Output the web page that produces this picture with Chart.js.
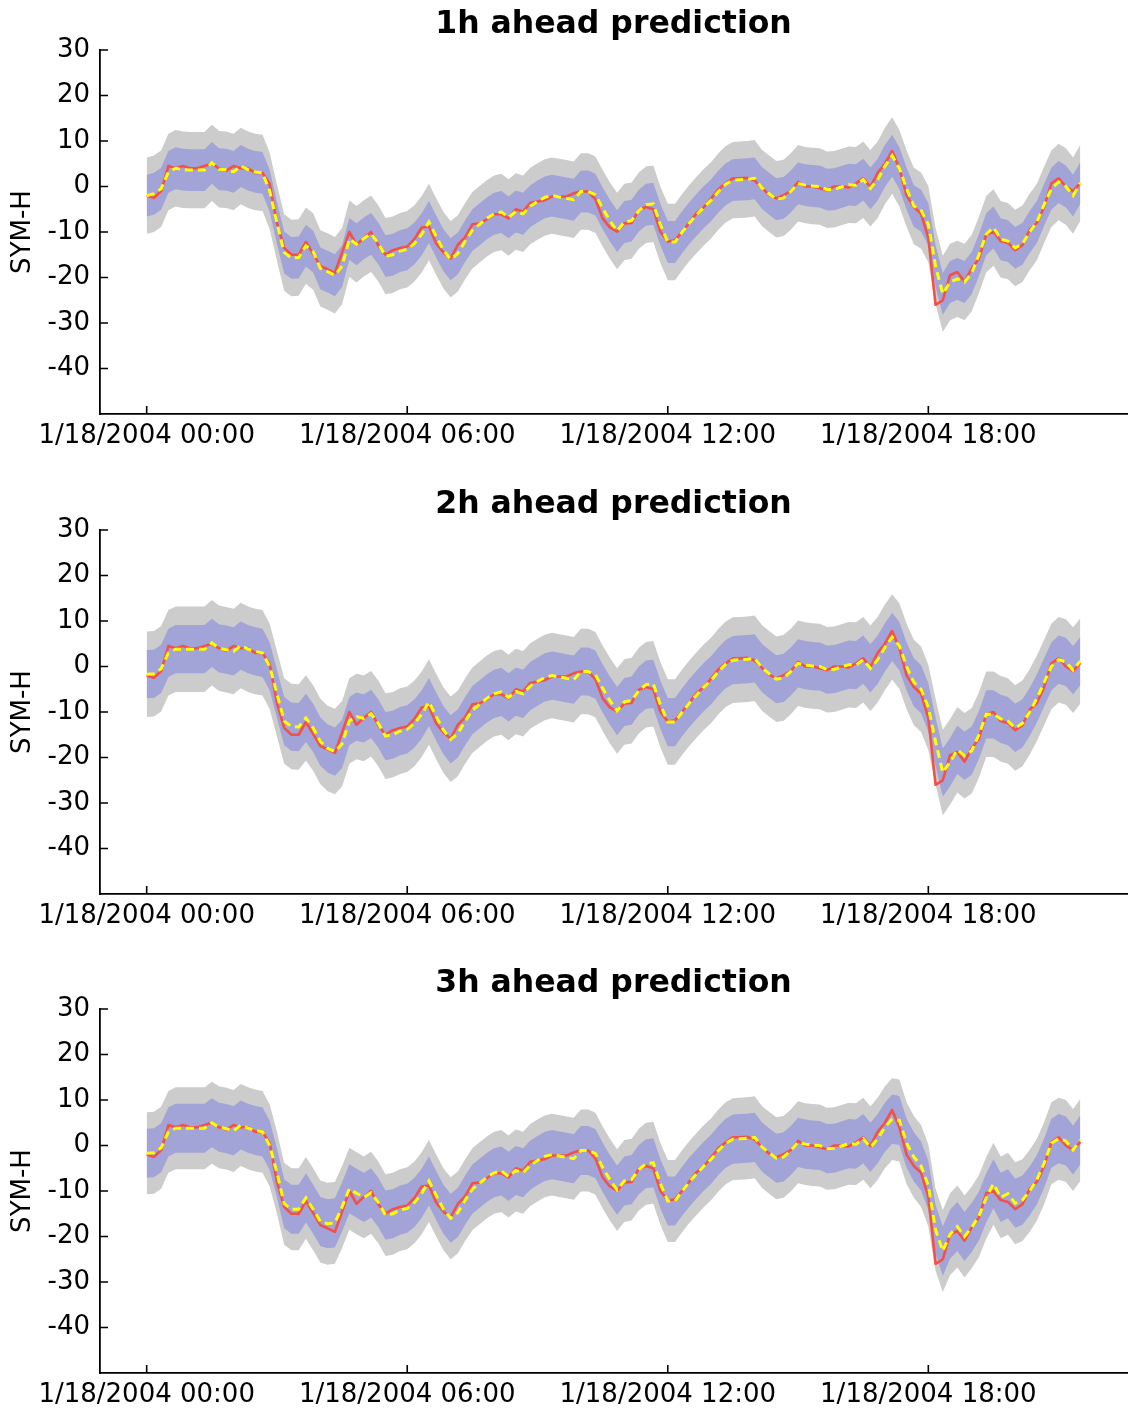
<!DOCTYPE html>
<html>
<head>
<meta charset="utf-8">
<script src="https://cdn.jsdelivr.net/npm/chart.js@4.4.1/dist/chart.umd.min.js"></script>
<style>
  html, body { margin: 0; padding: 0; background: #ffffff; overflow: hidden; width: 1133px; height: 1410px; }
  canvas.panel { position: absolute; left: 0; }
</style>
</head>
<body>
<canvas id="panel0" class="panel" width="1133" height="470" style="top:0px"></canvas>
<canvas id="panel1" class="panel" width="1133" height="470" style="top:480px"></canvas>
<canvas id="panel2" class="panel" width="1133" height="470" style="top:959px"></canvas>
<script>
// SYM-H on 18 January 2004, sampled every 10 minutes from 00:00 to 21:30.
const STEP_MINUTES = 10;

const panelTitles = ['1h ahead prediction', '2h ahead prediction', '3h ahead prediction'];

// x ticks (hours after 00:00) and their labels
const tickHours = [0, 6, 12, 18];
const tickLabels = ['1/18/2004 00:00', '1/18/2004 06:00', '1/18/2004 12:00', '1/18/2004 18:00'];

// y ticks (nT)
const yTicks = [30, 20, 10, 0, -10, -20, -30, -40];

// observed SYM-H (red)
const observed = [
  -2, -2.5, -1, 4.5, 4, 4.5, 4, 4, 4.5, 5,
  4, 3.5, 4.5, 4, 4, 3, 3, 0.5, -8, -13.5,
  -15, -15, -12.2, -14.8, -17.5, -18.2, -19, -14.5, -10, -12.8,
  -11.3, -10, -12.9, -15, -14, -13.5, -13.2, -11.5, -9, -8.8,
  -12.5, -14.5, -15.8, -12.8, -11.2, -8.3, -8.1, -7.2, -6.1, -6.1,
  -7, -5, -5.5, -3.6, -3.3, -3, -2.2, -2.2, -2.2, -1.5,
  -1.1, -1.1, -2.8, -7, -9, -9.9, -8.1, -8, -5.1, -4.5,
  -5, -10, -12.1, -11.8, -9.9, -7.9, -5.8, -4.5, -2.6, -0.6,
  0.7, 1.8, 1.8, 1.9, 1.3, -0.3, -1.8, -2.6, -1.9, -1,
  1, 0, 0, -0.4, -0.8, 0, 0, -0.2, 0.7, 1.8,
  -0.1, 3, 5, 7.8, 4, -2, -4.5, -6, -11.3, -26,
  -25, -19.5, -18.8, -20.9, -18, -15.8, -10.5, -10, -12, -12.4,
  -14, -12.9, -9.5, -8, -4.5, 0.7, 1.8, 0, -1, 0.8
];

// predicted SYM-H, 1 hour ahead (yellow dashed)
const predicted1h = [
  -2, -1.6, -0.5, 3.2, 4, 3.7, 3.6, 3.6, 3.6, 5.2,
  3.8, 3.7, 3.2, 4.5, 3.7, 3.2, 3, -1, -8, -14.5,
  -15.7, -15.6, -13, -14.3, -18, -18.7, -19.5, -17.5, -11.5, -12.7,
  -11.4, -10.4, -12.5, -15.3, -15, -14.2, -13.8, -12.5, -10.5, -7.8,
  -11, -14, -16, -14.7, -12, -9.6, -8.3, -7, -6, -5.6,
  -6.8, -5.5, -6, -4.3, -3.3, -2.4, -2, -2.3, -2.6, -2.9,
  -1.1, -1.1, -1.8, -4.8, -7.5, -9.8, -7.8, -7.5, -5.3, -4,
  -3.8, -8.5, -12.2, -12.2, -10, -8, -6.2, -4.5, -3, -1.1,
  0.5, 1.4, 1.5, 1.6, 1.8, -0.3, -1.6, -2.8, -2.5, -1.1,
  0.7, 0.3, 0.1, 0, -0.7, -0.6, -0.1, 0.4, 0.3, 1.5,
  -0.4, 1.5, 4.5, 6.8, 4, -0.5, -4.3, -5.3, -8.3, -17.5,
  -23.6, -21, -20.3, -21, -19, -15, -10.5, -9, -11.6, -12,
  -13.5, -12.6, -10, -7.8, -4, -0.5, 1, 0, -2, 0.8
];

// predicted SYM-H, 2 hours ahead
const predicted2h = [
  -1.7, -1.6, -0.5, 3, 3.8, 3.8, 3.8, 3.8, 3.8, 5.2,
  4, 3.7, 3.3, 4.6, 3.8, 3.3, 3, 0, -6, -12,
  -13.2, -13.3, -11.3, -13.5, -16.5, -18, -18.7, -17, -12, -11,
  -11.4, -10.4, -12.5, -15.3, -15, -14.2, -13.8, -12.5, -10.5, -7.8,
  -11, -14, -16, -14.7, -12, -9.6, -8.3, -7, -6, -5.6,
  -6.8, -5.5, -6, -4.3, -3.3, -2.4, -2, -2.3, -2.6, -2.9,
  -1.1, -1.1, -1.8, -4.8, -7.5, -9.8, -7.8, -7.5, -5.3, -4,
  -3.8, -8.5, -12.2, -12.2, -10, -8, -6.2, -4.5, -3, -1.1,
  0.5, 1.4, 1.5, 1.6, 1.8, -0.3, -1.6, -2.8, -2.5, -1.1,
  0.7, 0.3, 0.1, 0, -0.7, -0.6, -0.1, 0.4, 0.3, 1.5,
  -0.4, 1.5, 4.2, 6.5, 4.5, 0, -3.5, -5, -9, -16.5,
  -23.3, -21, -18.3, -19.6, -18.5, -15, -10.5, -10.5, -11.5, -12,
  -13.5, -12.5, -10, -7, -3.5, 0, 1.5, 1, -0.8, 1.2
];

// predicted SYM-H, 3 hours ahead
const predicted3h = [
  -1.7, -1.6, -0.5, 3, 3.8, 3.8, 3.8, 3.8, 3.8, 5,
  4, 3.7, 3.2, 4.5, 3.8, 3.3, 3, 0, -6, -12.8,
  -14, -14, -11.5, -14, -16.7, -17.2, -17, -13.5, -9.5, -10.5,
  -11.4, -10.4, -12.5, -15.3, -15, -14.2, -13.8, -12.5, -10.5, -7.8,
  -11, -14, -16, -14.7, -12, -9.6, -8.3, -7, -6, -5.6,
  -6.8, -5.5, -6, -4.3, -3.3, -2.4, -2, -2.3, -2.6, -2.9,
  -1.1, -1.1, -1.8, -4.8, -7.5, -9.8, -7.8, -7.5, -5.3, -4,
  -3.8, -8.5, -12.2, -12.2, -10, -8, -6.2, -4.5, -3, -1.1,
  0.5, 1.4, 1.5, 1.6, 1.8, -0.3, -1.6, -2.8, -2.5, -1.1,
  0.7, 0.3, 0.1, 0, -0.7, -0.6, -0.1, 0.4, 0.3, 1.5,
  -0.4, 1.5, 4, 5.8, 5.5, 0.5, -2.5, -4.5, -8.8, -18.5,
  -23.2, -19.5, -17.8, -20, -18, -15.5, -11.5, -8.4, -11.4, -10.6,
  -12.7, -12, -10, -7.5, -3.9, 0.5, 1.5, 1, -1, 1.2
];

const predictions = [predicted1h, predicted2h, predicted3h];

// half-widths of the inner (blue) and outer (grey) uncertainty bands, per horizon
const innerHalfWidth = [4.6, 5.3, 5.4];
const outerHalfWidth = [8.4, 9.4, 9.0];

const FONT = "'DejaVu Sans', sans-serif";
Chart.defaults.font.family = FONT;
Chart.defaults.color = '#000000';

const toPoints = (arr, shift) => arr.map((v, i) => ({ x: i * STEP_MINUTES / 60, y: v + shift }));

// inward-pointing tick marks on both axes
const inwardTicks = {
  id: 'inwardTicks',
  afterDraw(chart) {
    const { ctx, chartArea, scales } = chart;
    ctx.save();
    ctx.strokeStyle = '#000000';
    ctx.lineWidth = 1.6;
    ctx.beginPath();
    for (const v of yTicks) {
      const py = scales.y.getPixelForValue(v);
      ctx.moveTo(chartArea.left, py);
      ctx.lineTo(chartArea.left + 8, py);
    }
    for (const h of tickHours) {
      const px = scales.x.getPixelForValue(h);
      ctx.moveTo(px, chartArea.bottom);
      ctx.lineTo(px, chartArea.bottom - 8);
    }
    ctx.stroke();
    ctx.restore();
  }
};

function makePanel(canvasId, k) {
  const pred = predictions[k];
  const inner = innerHalfWidth[k];
  const outer = outerHalfWidth[k];
  const band = { pointRadius: 0, borderWidth: 0, borderColor: 'rgba(0,0,0,0)', tension: 0 };
  new Chart(document.getElementById(canvasId), {
    type: 'line',
    data: {
      datasets: [
        { label: 'prediction', data: toPoints(pred, 0), borderColor: '#ffff00', borderWidth: 3,
          borderDash: [8, 5], pointRadius: 0, fill: false, tension: 0, order: 0 },
        { label: 'observed', data: toPoints(observed, 0), borderColor: '#f4504a', borderWidth: 2.6,
          borderJoinStyle: 'round', pointRadius: 0, fill: false, tension: 0, order: 1 },
        Object.assign({ label: 'inner upper', data: toPoints(pred, inner), fill: 3, backgroundColor: '#a2a3d6', order: 2 }, band),
        Object.assign({ label: 'inner lower', data: toPoints(pred, -inner), fill: false, order: 2 }, band),
        Object.assign({ label: 'outer upper', data: toPoints(pred, outer), fill: 5, backgroundColor: '#cccccc', order: 3 }, band),
        Object.assign({ label: 'outer lower', data: toPoints(pred, -outer), fill: false, order: 3 }, band)
      ]
    },
    options: {
      responsive: false,
      animation: false,
      devicePixelRatio: 1,
      events: [],
      layout: { padding: { left: 0, right: 6, top: 0, bottom: 0 } },
      plugins: {
        legend: { display: false },
        tooltip: { enabled: false },
        title: {
          display: true,
          text: panelTitles[k],
          fullSize: false,
          color: '#000000',
          font: { family: FONT, size: 31.5, weight: 'bold', lineHeight: 1.2 },
          padding: { top: 6, bottom: 6.2 }
        }
      },
      scales: {
        x: {
          type: 'linear',
          min: -1.075,
          max: 22.575,
          afterBuildTicks: (scale) => { scale.ticks = tickHours.map(v => ({ value: v })); },
          afterFit: (scale) => { scale.height = 56; },
          grid: { display: false, drawTicks: false },
          border: { display: true, color: '#000000', width: 1.8 },
          ticks: {
            autoSkip: false, maxRotation: 0, padding: 7, color: '#000000',
            font: { family: FONT, size: 26 },
            callback: (value, index) => tickLabels[index]
          }
        },
        y: {
          type: 'linear',
          min: -50,
          max: 30,
          afterBuildTicks: (scale) => { scale.ticks = yTicks.map(v => ({ value: v })); },
          afterFit: (scale) => { scale.width = 100; },
          grid: { display: false, drawTicks: false },
          border: { display: true, color: '#000000', width: 1.8 },
          ticks: { padding: 10, color: '#000000', font: { family: FONT, size: 26 } },
          title: {
            display: true, text: 'SYM-H', color: '#000000',
            font: { family: FONT, size: 26 },
            padding: { top: 8, bottom: 0 }
          }
        }
      }
    },
    plugins: [inwardTicks]
  });
}

makePanel('panel0', 0);
makePanel('panel1', 1);
makePanel('panel2', 2);
</script>
</body>
</html>
